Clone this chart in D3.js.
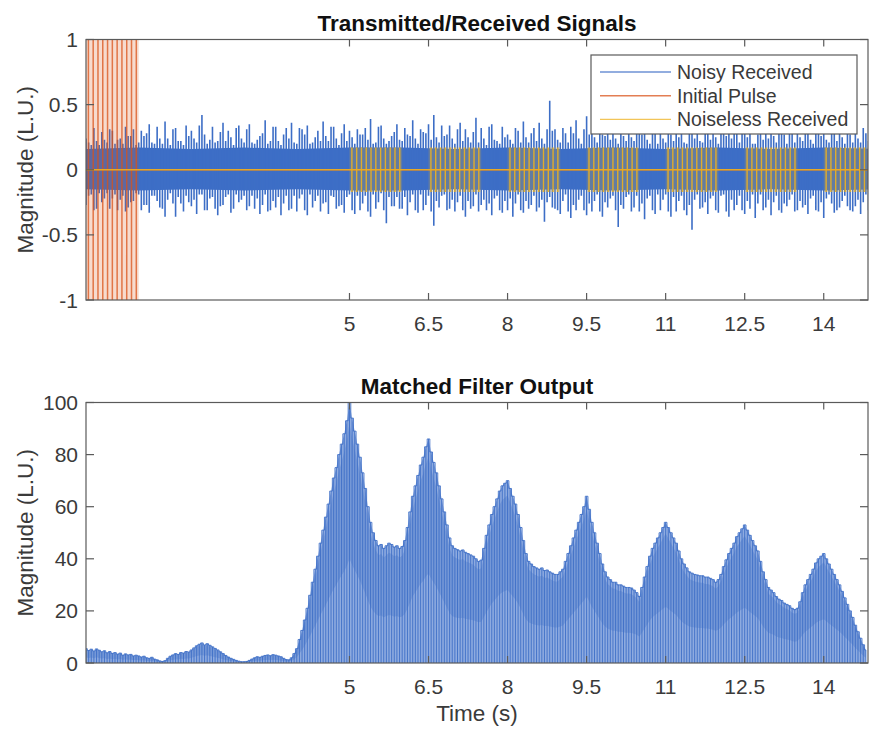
<!DOCTYPE html>
<html>
<head>
<meta charset="utf-8">
<script src="https://cdn.jsdelivr.net/npm/d3@7"></script>
<style>
  body { margin: 0; background: #fff; }
  text { font-family: "Liberation Sans", Arial, Helvetica, sans-serif; }
</style>
</head>
<body>
<svg id="chart" width="870" height="729"></svg>
<script>
// ---------- data ----------
const timeEnd = 14.84;
const xTicks = [5, 6.5, 8, 9.5, 11, 12.5, 14];
const yTicksTop = [-1, -0.5, 0, 0.5, 1];
const yTicksBottom = [0, 20, 40, 60, 80, 100];
const legendLabels = ["Noisy Received", "Initial Pulse", "Noiseless Received"];

// noisy received: min/max span per display column, two columns per 0.1 s block
//   column at t        spans noisyLo[i] .. noisyHi[i]
//   column at t + 0.05 spans grassLo[i] .. grassHi[i]
const noiseStep = 0.1;
const noisyHi = [
  0.24,0.19,0.22,0.29,0.21,0.30,0.23,0.20,0.26,0.31,
  0.21,0.26,0.35,0.20,0.24,0.37,0.19,0.32,0.22,0.34,
  0.30,0.21,0.42,0.20,0.33,0.22,0.36,0.30,0.19,0.34,
  0.21,0.35,0.20,0.26,0.38,0.22,0.33,0.19,0.32,0.36,
  0.20,0.31,0.34,0.21,0.30,0.37,0.22,0.33,0.19,0.35,
  0.30,0.20,0.27,0.32,0.39,0.21,0.34,0.20,0.26,0.35,
  0.22,0.27,0.38,0.20,0.29,0.35,0.42,0.21,0.26,0.34,
  0.20,0.36,0.31,0.21,0.40,0.32,0.19,0.35,0.22,0.33,
  0.27,0.20,0.30,0.37,0.21,0.32,0.36,0.20,0.53,0.31,
  0.21,0.28,0.33,0.38,0.20,0.41,0.29,0.21,0.27,0.32,
  0.36,0.20,0.26,0.34,0.22,0.28,0.37,0.20,0.29,0.35,
  0.21,0.27,0.33,0.36,0.20,0.31,0.34,0.21,0.32,0.38,
  0.20,0.33,0.30,0.35,0.21,0.32,0.37,0.20,0.34,0.31,
  0.36,0.21,0.32,0.20,0.35,0.30,0.22,0.38,0.20,0.31,
  0.34,0.21,0.32,0.46,0.20,0.27,0.35,0.21,0.28
];
const noisyLo = [
  -0.27,-0.19,-0.30,-0.25,-0.18,-0.22,-0.31,-0.20,-0.29,-0.24,
  -0.19,-0.27,-0.33,-0.20,-0.29,-0.36,-0.18,-0.36,-0.26,-0.20,
  -0.28,-0.34,-0.19,-0.31,-0.21,-0.35,-0.27,-0.19,-0.30,-0.25,
  -0.20,-0.28,-0.30,-0.34,-0.19,-0.31,-0.29,-0.35,-0.20,-0.30,
  -0.32,-0.19,-0.35,-0.29,-0.20,-0.26,-0.34,-0.21,-0.28,-0.33,
  -0.19,-0.34,-0.31,-0.20,-0.36,-0.30,-0.18,-0.41,-0.28,-0.21,
  -0.30,-0.35,-0.19,-0.33,-0.31,-0.20,-0.43,-0.29,-0.19,-0.30,
  -0.32,-0.20,-0.36,-0.30,-0.19,-0.27,-0.31,-0.35,-0.20,-0.33,
  -0.31,-0.36,-0.19,-0.33,-0.30,-0.20,-0.29,-0.40,-0.21,-0.30,
  -0.34,-0.19,-0.37,-0.31,-0.20,-0.35,-0.32,-0.19,-0.36,-0.29,
  -0.20,-0.44,-0.30,-0.19,-0.29,-0.32,-0.38,-0.20,-0.34,-0.31,
  -0.19,-0.36,-0.32,-0.20,-0.35,-0.46,-0.19,-0.29,-0.34,-0.20,
  -0.33,-0.19,-0.36,-0.31,-0.20,-0.34,-0.30,-0.37,-0.19,-0.29,
  -0.35,-0.20,-0.33,-0.28,-0.19,-0.31,-0.29,-0.34,-0.20,-0.32,
  -0.37,-0.19,-0.33,-0.29,-0.20,-0.31,-0.28,-0.34,-0.19
];
const grassHi = [
  0.21,0.32,0.19,0.23,0.31,0.20,0.24,0.33,0.26,0.19,
  0.30,0.28,0.21,0.33,0.20,0.24,0.31,0.22,0.19,0.26,
  0.24,0.34,0.27,0.23,0.21,0.29,0.22,0.25,0.32,0.24,
  0.31,0.21,0.23,0.28,0.20,0.33,0.22,0.27,0.24,0.21,
  0.32,0.27,0.20,0.25,0.22,0.26,0.33,0.24,0.28,0.22,
  0.25,0.31,0.27,0.23,0.20,0.33,0.24,0.22,0.29,0.23,
  0.32,0.26,0.24,0.31,0.28,0.23,0.25,0.34,0.27,0.24,
  0.31,0.22,0.25,0.29,0.21,0.24,0.33,0.23,0.20,0.25,
  0.23,0.32,0.21,0.25,0.28,0.22,0.24,0.31,0.30,0.23,
  0.32,0.21,0.28,0.24,0.31,0.27,0.25,0.33,0.26,0.23,
  0.24,0.31,0.22,0.25,0.33,0.27,0.23,0.32,0.20,0.24,
  0.31,0.22,0.25,0.21,0.33,0.24,0.22,0.30,0.23,0.25,
  0.32,0.26,0.24,0.28,0.31,0.25,0.20,0.27,0.23,0.24,
  0.26,0.33,0.27,0.31,0.21,0.25,0.32,0.23,0.31,0.26,
  0.23,0.32,0.22,0.25,0.31,0.21,0.24,0.32,0.22
];
const grassLo = [
  -0.20,-0.31,-0.18,-0.22,-0.30,-0.19,-0.23,-0.32,-0.25,-0.18,
  -0.31,-0.27,-0.20,-0.24,-0.30,-0.23,-0.26,-0.21,-0.32,-0.25,
  -0.23,-0.19,-0.31,-0.22,-0.30,-0.28,-0.21,-0.33,-0.19,-0.23,
  -0.31,-0.20,-0.22,-0.27,-0.32,-0.24,-0.21,-0.26,-0.31,-0.20,
  -0.22,-0.31,-0.19,-0.24,-0.32,-0.25,-0.20,-0.30,-0.27,-0.21,
  -0.31,-0.20,-0.26,-0.32,-0.19,-0.25,-0.31,-0.21,-0.28,-0.30,
  -0.21,-0.25,-0.31,-0.19,-0.27,-0.32,-0.24,-0.20,-0.31,-0.23,
  -0.25,-0.31,-0.24,-0.28,-0.32,-0.23,-0.26,-0.22,-0.31,-0.24,
  -0.22,-0.26,-0.31,-0.24,-0.27,-0.32,-0.23,-0.25,-0.29,-0.31,
  -0.24,-0.32,-0.27,-0.23,-0.31,-0.26,-0.24,-0.32,-0.25,-0.22,
  -0.31,-0.27,-0.21,-0.32,-0.20,-0.26,-0.22,-0.31,-0.19,-0.23,
  -0.32,-0.21,-0.24,-0.31,-0.27,-0.23,-0.30,-0.25,-0.22,-0.31,
  -0.20,-0.32,-0.23,-0.27,-0.31,-0.24,-0.19,-0.26,-0.31,-0.23,
  -0.25,-0.31,-0.26,-0.23,-0.32,-0.24,-0.27,-0.22,-0.31,-0.25,
  -0.22,-0.26,-0.31,-0.24,-0.28,-0.32,-0.23,-0.25,-0.31
];
// dense noise band, one level per second
const coreStep = 1;
const noisyCoreHi = [0.16,0.17,0.16,0.17,0.16,0.17,0.17,0.16,0.17,0.16,0.17,0.16,0.17,0.16,0.17,0.16];
const noisyCoreLo = [-0.15,-0.16,-0.15,-0.16,-0.15,-0.16,-0.16,-0.15,-0.16,-0.15,-0.16,-0.15,-0.16,-0.15,-0.16,-0.15];

// transmitted pulse: 1 s burst of swings
const pulseStart = 0;
const pulseDuration = 1;
const pulseSwings = 11;
const pulseAmp = 1;
// echoes (noiseless received)
const echoStarts = [5, 6.5, 8, 9.5, 11, 12.5, 14];
const echoAmps = [0.17, 0.17, 0.17, 0.17, 0.17, 0.17, 0.17];

// matched filter output magnitude, sampled every 0.05 s from t = 0
const mfStep = 0.05;
const mfOutput = [
  5.5,4.8,5.3,4.6,5.4,4.9,4.3,4.7,3.9,4.4,3.7,4.0,3.4,3.8,3.0,3.5,3.1,3.3,2.7,3.0,
  2.7,2.3,2.6,2.0,1.8,2.2,1.5,1.2,0.8,0.6,0.9,1.8,2.6,3.1,3.6,3.3,4.0,3.8,4.4,4.2,
  5.0,5.8,6.6,7.2,7.7,6.9,7.4,6.8,6.2,5.6,5.0,4.3,3.6,2.9,2.3,1.8,1.4,1.0,0.7,0.5,
  0.5,0.6,1.0,1.5,2.0,2.4,2.2,2.6,2.9,3.1,2.8,3.2,3.0,2.7,2.4,1.8,1.3,1.2,2.0,3.6,
  5.5,9.0,12.5,16.5,21,26,31,36,41,46,51,56,61,66,71,75,80,84,88,93,
  100,94,89,84,79,73,67,60,54,50,47,45,45.5,44,45,46,45.5,44.5,45,44,
  44.7,47,52,58,64,68,72,76,79,83,86,81,77,73,68,63,58,53,48,45,
  44,43.5,43,43.4,42.5,42,41.5,41,40,39,39.5,44,49,53,57,60,63,66,68,69,
  70,67,64,61,57,52,47,42,39,38,37,36.5,36,36.5,35.5,35.7,35,34.5,34,34,
  35,36,39,42,45,48,51,54,57,60,64,59,54,50,46,42,38,35,33,32,
  31,31,30,30,29.5,29,29,28.8,28,27,25.5,29,33,37,41,44,46,48,50,52,
  54,52,50,48,46,43,40,38,36.5,35,34.5,34,33.8,33.5,33.5,33,33,32.5,32,31,
  32,34,37,39.6,42,44,46,48.5,50,51.5,53,51,49,47,45,43,39,35,32,29,
  28,27,25.5,24.5,24,23,22.5,22,21,20.5,21,23.5,27,30,32,34,36,38.4,40,41,
  42,40,38,36,34,32,30,27.5,25,22.5,20,17.5,14.5,12,9.5,7,5
];

// ---------- styling ----------
const blue = "#3d6ec6";
const orange = "#d95319";
const yellow = "#edb120";
const axisColor = "#5a5a5a";
const textColor = "#3a3a3a";

const svg = d3.select("#chart");
const left = 86, right = 868;
const topBox = { top: 39.5, bottom: 300 };
const botBox = { top: 402.5, bottom: 663 };

const x = d3.scaleLinear().domain([0, timeEnd]).range([left, right]);
const yTop = d3.scaleLinear().domain([-1, 1]).range([topBox.bottom, topBox.top]);
const yBot = d3.scaleLinear().domain([0, 100]).range([botBox.bottom, botBox.top]);

const defs = svg.append("defs");
defs.append("clipPath").attr("id", "clipTop").append("rect")
  .attr("x", left).attr("y", topBox.top - 1).attr("width", right - left).attr("height", topBox.bottom - topBox.top + 2);
defs.append("clipPath").attr("id", "clipBot").append("rect")
  .attr("x", left).attr("y", botBox.top).attr("width", right - left).attr("height", botBox.bottom - botBox.top);

// ---------- top panel: transmitted / received ----------
const gTop = svg.append("g").attr("clip-path", "url(#clipTop)");

// dense noise band
const coreData = noisyCoreHi.map((h, i) => ({ t: i * coreStep, hi: h, lo: noisyCoreLo[i] }));
gTop.append("path")
  .datum(coreData)
  .attr("fill", blue)
  .attr("d", d3.area().x(d => x(d.t)).y0(d => yTop(d.lo)).y1(d => yTop(d.hi)));

// noise columns: vertical min/max span for each display column
const noiseCols = [];
noisyHi.forEach((h, i) => {
  const t = i * noiseStep;
  noiseCols.push({ t: t, lo: noisyLo[i], hi: h });
  noiseCols.push({ t: t + noiseStep / 2, lo: grassLo[i], hi: grassHi[i] });
});
gTop.append("path")
  .attr("fill", "none")
  .attr("stroke", blue)
  .attr("stroke-width", 1.6)
  .attr("d", noiseCols.map(c => `M${x(c.t)},${yTop(c.lo)}V${yTop(c.hi)}`).join(""));

// a burst: tinted band plus one full-swing stroke per cycle, then the zero baseline
const bandArea = d3.area().x(d => x(d.t)).y0(d => yTop(-d.a)).y1(d => yTop(d.a));
function burstPath(t0, a) {
  let p = "";
  for (let k = 0; k < pulseSwings; k++) {
    const px = x(t0 + (k + 0.5) * pulseDuration / pulseSwings);
    p += `M${px},${yTop(-a)}V${yTop(a)}`;
  }
  return p;
}
function drawBurstSeries(starts, amps, color, tintOpacity, strokeOpacity, width) {
  starts.forEach((s, i) => {
    gTop.append("path")
      .datum([{ t: s, a: amps[i] }, { t: s + pulseDuration, a: amps[i] }])
      .attr("fill", color).attr("fill-opacity", tintOpacity)
      .attr("d", bandArea);
  });
  gTop.append("path")
    .attr("fill", "none").attr("stroke", color).attr("stroke-width", width).attr("stroke-opacity", strokeOpacity)
    .attr("d", starts.map((s, i) => burstPath(s, amps[i])).join("")
      + `M${x(0)},${yTop(0)}H${x(timeEnd)}`);
}
drawBurstSeries([pulseStart], [pulseAmp], orange, 0.21, 0.75, 1.5);
drawBurstSeries(echoStarts, echoAmps, yellow, 0.22, 0.9, 1.4);

// ---------- bottom panel: matched filter ----------
const gBot = svg.append("g").attr("clip-path", "url(#clipBot)");
const mfData = mfOutput.map((v, i) => ({ t: i * mfStep, v }));

gBot.append("path")
  .datum(mfData)
  .attr("fill", "#8eabe0")
  .attr("d", d3.area().x(d => x(d.t)).y0(yBot(0)).y1(d => yBot(d.v)));
gBot.append("path")
  .datum(mfData)
  .attr("fill", "#5681cd").attr("fill-opacity", 0.45)
  .attr("d", d3.area().x(d => x(d.t)).y0(d => yBot(d.v * 0.4)).y1(d => yBot(d.v * 0.92)));
gBot.append("path")
  .attr("fill", "none").attr("stroke", blue).attr("stroke-width", 0.9)
  .attr("d", mfData.map(d => `M${x(d.t)},${yBot(0)}V${yBot(d.v)}`).join(""));
gBot.append("path")
  .datum(mfData)
  .attr("fill", "none").attr("stroke", blue).attr("stroke-width", 0.9)
  .attr("d", d3.line().x(d => x(d.t)).y(d => yBot(d.v)).curve(d3.curveStep));

// ---------- axes ----------
function drawFrame(y, box, yTicks, yFmt) {
  const g = svg.append("g");
  g.append("rect")
    .attr("x", left).attr("y", box.top).attr("width", right - left).attr("height", box.bottom - box.top)
    .attr("fill", "none").attr("stroke", axisColor).attr("stroke-width", 1.2);
  const tk = 7;
  // x ticks on bottom and top edges, pointing inward
  xTicks.forEach(t => {
    const px = x(t);
    g.append("line").attr("x1", px).attr("x2", px).attr("y1", box.bottom).attr("y2", box.bottom - tk)
      .attr("stroke", axisColor).attr("stroke-width", 1.2);
    g.append("line").attr("x1", px).attr("x2", px).attr("y1", box.top).attr("y2", box.top + tk)
      .attr("stroke", axisColor).attr("stroke-width", 1.2);
    g.append("text").attr("x", px).attr("y", box.bottom + 31)
      .attr("text-anchor", "middle").attr("font-size", 21).attr("fill", textColor)
      .text(d3.format("")(t));
  });
  // y ticks on both sides
  yTicks.forEach(v => {
    const py = y(v);
    g.append("line").attr("x1", left).attr("x2", left + tk + 1).attr("y1", py).attr("y2", py)
      .attr("stroke", axisColor).attr("stroke-width", 1.2);
    g.append("line").attr("x1", right).attr("x2", right - tk - 1).attr("y1", py).attr("y2", py)
      .attr("stroke", axisColor).attr("stroke-width", 1.2);
    g.append("text").attr("x", left - 8).attr("y", py + 7.5)
      .attr("text-anchor", "end").attr("font-size", 21).attr("fill", textColor)
      .text(yFmt(v));
  });
  g.append("text")
    .attr("transform", `translate(33,${(box.top + box.bottom) / 2}) rotate(-90)`)
    .attr("text-anchor", "middle").attr("font-size", 22.5).attr("fill", textColor)
    .text("Magnitude (L.U.)");
}
drawFrame(yTop, topBox, yTicksTop, v => d3.format("")(v).replace("−", "-"));
drawFrame(yBot, botBox, yTicksBottom, v => String(v));

// titles and x label
svg.append("text").attr("x", (left + right) / 2).attr("y", 31)
  .attr("text-anchor", "middle").attr("font-size", 22.5).attr("font-weight", "bold").attr("fill", "#111")
  .text("Transmitted/Received Signals");
svg.append("text").attr("x", (left + right) / 2).attr("y", 394)
  .attr("text-anchor", "middle").attr("font-size", 22.5).attr("font-weight", "bold").attr("fill", "#111")
  .text("Matched Filter Output");
svg.append("text").attr("x", (left + right) / 2).attr("y", 721)
  .attr("text-anchor", "middle").attr("font-size", 22.5).attr("fill", textColor)
  .text("Time (s)");

// ---------- legend ----------
const lg = svg.append("g").attr("transform", "translate(591,55)");
lg.append("rect").attr("width", 266).attr("height", 79)
  .attr("fill", "#fff").attr("stroke", axisColor).attr("stroke-width", 1.2);
const legendColors = [blue, orange, yellow];
legendLabels.forEach((lab, i) => {
  const yy = 17 + i * 23.7;
  lg.append("line").attr("x1", 9).attr("x2", 80).attr("y1", yy).attr("y2", yy)
    .attr("stroke", legendColors[i]).attr("stroke-width", 1.4).attr("stroke-opacity", 0.75);
  lg.append("text").attr("x", 86).attr("y", yy + 7)
    .attr("font-size", 19.5).attr("fill", textColor).text(lab);
});
</script>
</body>
</html>
